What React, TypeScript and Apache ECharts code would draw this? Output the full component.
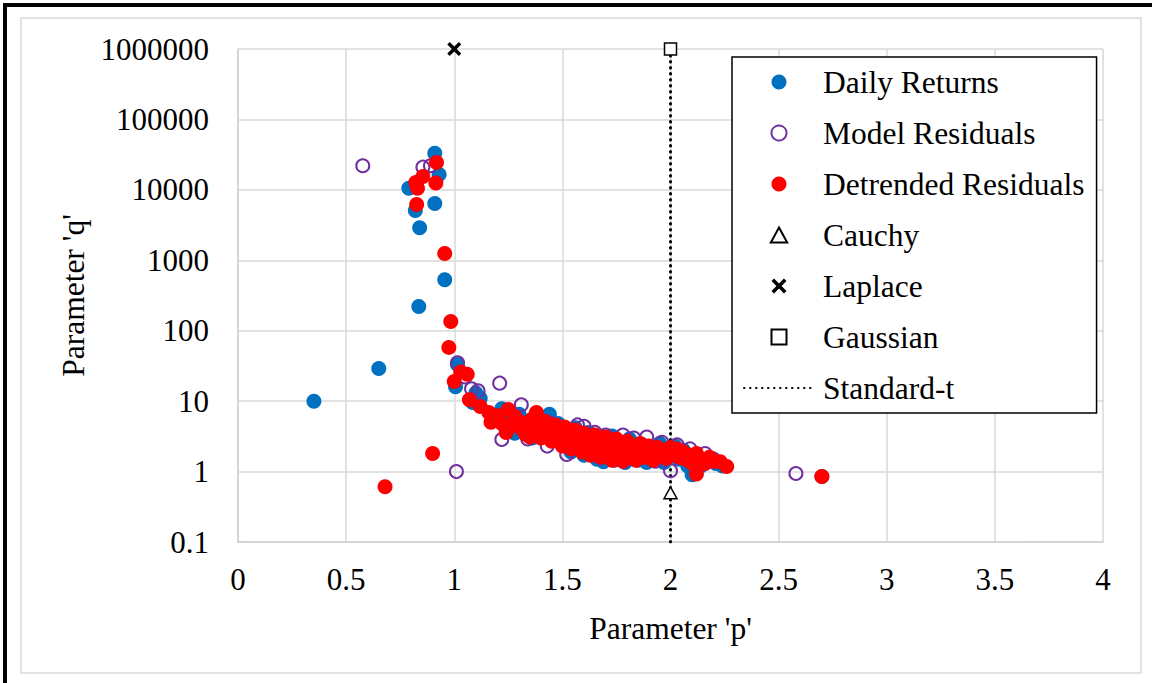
import React, { useEffect, useRef } from 'react';
import * as echarts from 'echarts';

const yTickLabels = ['0.1', '1', '10', '100', '1000', '10000', '100000', '1000000'];

const dailyReturns: [number, number][] = [
  [0.351, 10], [0.651, 29], [0.836, 220], [0.956, 530], [0.84, 2900], [0.82, 5100],
  [0.91, 6400], [0.79, 10500], [0.93, 16500], [0.91, 33000],
  [1.015, 33], [1.006, 16], [1.085, 9.6], [1.1, 13], [1.12, 11], [1.22, 7.8], [1.25, 5],
  [1.28, 3.5], [1.3, 6.5], [1.33, 4.2], [1.36, 3.0], [1.4, 5.5], [1.42, 3.8], [1.44, 6.5],
  [1.46, 2.9], [1.48, 4.8], [1.5, 2.4], [1.52, 3.8], [1.54, 1.9], [1.56, 4.2], [1.58, 2.6],
  [1.6, 1.7], [1.62, 3.6], [1.64, 2.2], [1.66, 1.5], [1.68, 3.0], [1.69, 1.38], [1.71, 2.0],
  [1.73, 3.2], [1.75, 1.6], [1.77, 2.5], [1.79, 1.35], [1.81, 2.9], [1.83, 1.8], [1.85, 1.45],
  [1.87, 2.4], [1.89, 1.35], [1.91, 2.0], [1.93, 1.5], [1.95, 2.5], [1.97, 1.35], [1.99, 1.9],
  [2.02, 2.3], [2.04, 1.5], [2.06, 2.0], [2.08, 1.2], [2.1, 0.9], [2.11, 1.7], [2.14, 1.2],
  [2.17, 1.5], [2.21, 1.3], [2.24, 1.2], [2.7, 0.85]
];

const modelResiduals: [number, number][] = [
  [0.577, 22000], [0.855, 21000], [0.89, 22000], [1.015, 35], [1.01, 1.0], [1.05, 22],
  [1.08, 15], [1.11, 14], [1.21, 18], [1.22, 2.85], [1.31, 8.9], [1.26, 5.5], [1.34, 2.9],
  [1.35, 4.2], [1.41, 3.2], [1.43, 2.3], [1.38, 6], [1.45, 4.8], [1.52, 1.75], [1.5, 3.5],
  [1.57, 4.6], [1.55, 2.8], [1.6, 4.4], [1.62, 2.3], [1.65, 3.6], [1.67, 1.6], [1.7, 3.3],
  [1.72, 2.1], [1.74, 1.45], [1.78, 3.3], [1.8, 2.5], [1.83, 3.0], [1.85, 1.7], [1.89, 3.1],
  [1.91, 2.2], [1.93, 1.4], [1.96, 2.6], [1.99, 1.6], [2.0, 1.03], [2.03, 2.4], [2.06, 1.7],
  [2.09, 2.1], [2.13, 1.4], [2.16, 1.8], [2.2, 1.5], [2.58, 0.94]
];

const detrendedResiduals: [number, number][] = [
  [0.918, 24500], [0.855, 15500], [0.822, 12700], [0.83, 10500], [0.915, 12500], [0.826, 6200],
  [0.956, 1250], [0.984, 135], [0.975, 58], [1.03, 26], [1.06, 24], [1.0, 19], [1.07, 10.5],
  [1.12, 8.4], [1.17, 5], [1.16, 6.9], [1.25, 7.6], [1.26, 4.4], [1.35, 3.1], [1.38, 6.9],
  [1.2, 6.2], [1.22, 4.8], [1.24, 3.6], [1.28, 6.0], [1.3, 5.2], [1.31, 4.1], [1.33, 3.4],
  [1.36, 5.6], [1.37, 4.5], [1.39, 3.8], [1.4, 3.0], [1.42, 5.2], [1.43, 4.2], [1.44, 3.3],
  [1.45, 2.7], [1.47, 4.6], [1.48, 3.6], [1.49, 2.9], [1.5, 2.3], [1.51, 4.3], [1.52, 3.4],
  [1.53, 2.6], [1.54, 2.1], [1.56, 3.9], [1.57, 3.0], [1.58, 2.4], [1.59, 1.9], [1.6, 3.5],
  [1.61, 2.7], [1.62, 2.1], [1.63, 1.7], [1.65, 3.3], [1.66, 2.6], [1.67, 2.0], [1.68, 1.6],
  [1.7, 3.1], [1.71, 2.4], [1.72, 1.9], [1.73, 1.45], [1.75, 2.9], [1.76, 2.2], [1.77, 1.75],
  [1.78, 1.4], [1.8, 2.7], [1.81, 2.1], [1.82, 1.7], [1.84, 1.45], [1.86, 2.5], [1.87, 2.0],
  [1.88, 1.6], [1.9, 2.3], [1.91, 1.8], [1.92, 1.45], [1.94, 2.2], [1.95, 1.7], [1.97, 2.0],
  [1.98, 1.55], [2.0, 2.2], [2.01, 1.8], [2.03, 2.1], [2.04, 1.6], [2.06, 1.9], [2.07, 1.5],
  [2.09, 1.7], [2.1, 1.3], [2.12, 0.92], [2.12, 1.8], [2.14, 1.5], [2.16, 1.3], [2.18, 1.6],
  [2.2, 1.4], [2.23, 1.38], [2.26, 1.18],
  [0.9, 1.8], [0.68, 0.61], [2.7, 0.85]
];

const cauchy: [number, number][] = [[2, 0.5]];
const laplace: [number, number][] = [[1, 1000000]];
const gaussian: [number, number][] = [[2, 1000000]];
const standardT: [number, number][] = [[2, 0.1], [2, 1000000]];

const FONT = 'Liberation Serif, Times New Roman, serif';
const X_PATH = 'path://M0,2.4 L2.4,0 L7,4.6 L11.6,0 L14,2.4 L9.4,7 L14,11.6 L11.6,14 L7,9.4 L2.4,14 L0,11.6 L4.6,7 Z';
const TRI_PATH = 'path://M6,0 L12,11 L0,11 Z';
const SQ_PATH = 'path://M0,0 L10,0 L10,10 L0,10 Z';

export default function App() {
  const ref = useRef<HTMLDivElement>(null);
  useEffect(() => {
    const chart = echarts.init(ref.current!, null, { renderer: 'svg' });
    chart.setOption({
      animation: false,
      backgroundColor: '#fff',
      textStyle: { fontFamily: FONT, color: '#000' },
      graphic: [
        { type: 'rect', shape: { x: 3, y: 3, width: 4, height: 680 }, style: { fill: '#000' }, silent: true },
        { type: 'rect', shape: { x: 3, y: 3, width: 1149, height: 4 }, style: { fill: '#000' }, silent: true },
        { type: 'rect', shape: { x: 21, y: 18, width: 1120, height: 655 }, style: { fill: 'none', stroke: '#d9d9d9', lineWidth: 1.5 }, silent: true }
      ],
      grid: { left: 238, top: 49, width: 865, height: 493, containLabel: false },
      xAxis: {
        type: 'value', min: 0, max: 4, interval: 0.5,
        name: "Parameter 'p'", nameLocation: 'middle', nameGap: 70,
        nameTextStyle: { fontFamily: FONT, fontSize: 31.5, color: '#000' },
        axisLine: { show: true, lineStyle: { color: '#d0d0d0', width: 1.5 } },
        axisTick: { show: false },
        axisLabel: { fontFamily: FONT, fontSize: 31, color: '#000', margin: 22 },
        splitLine: { show: true, lineStyle: { color: '#d9d9d9', width: 1.5 } }
      },
      yAxis: {
        type: 'log', logBase: 10, min: 0.1, max: 1000000, splitNumber: 7,
        name: "Parameter 'q'", nameLocation: 'middle', nameGap: 148,
        nameTextStyle: { fontFamily: FONT, fontSize: 31.5, color: '#000' },
        axisLine: { show: true, lineStyle: { color: '#d0d0d0', width: 1.5 } },
        axisTick: { show: false },
        axisLabel: {
          fontFamily: FONT, fontSize: 31, color: '#000', margin: 29,
          formatter: (v: number) => yTickLabels[Math.round(Math.log10(v)) + 1] ?? ''
        },
        splitLine: { show: true, lineStyle: { color: '#d9d9d9', width: 1.5 } }
      },
      legend: {
        orient: 'vertical', left: 732, top: 57,
        padding: [9, 12, 9, 11],
        backgroundColor: '#fff', borderColor: '#000', borderWidth: 1.5,
        itemWidth: 70, itemHeight: 15, itemGap: 19,
        textStyle: { fontFamily: FONT, fontSize: 31.5, color: '#000', lineHeight: 30, padding: [0, 0, 0, 4] },
        data: ['Daily Returns', 'Model Residuals', 'Detrended Residuals', 'Cauchy', 'Laplace', 'Gaussian', 'Standard-t']
      },
      series: [
        {
          name: 'Daily Returns', type: 'scatter', data: dailyReturns, symbol: 'circle', symbolSize: 15,
          itemStyle: { color: '#0070C0', opacity: 1 }
        },
        {
          name: 'Model Residuals', type: 'scatter', data: modelResiduals, symbol: 'circle', symbolSize: 13,
          itemStyle: { color: 'rgba(0,0,0,0)', borderColor: '#7030A0', borderWidth: 2, opacity: 1 }
        },
        {
          name: 'Detrended Residuals', type: 'scatter', data: detrendedResiduals, symbol: 'circle', symbolSize: 15,
          itemStyle: { color: '#FF0000', opacity: 1 }
        },
        {
          name: 'Cauchy', type: 'scatter', data: cauchy, symbol: TRI_PATH, symbolSize: 13,
          symbolKeepAspect: true,
          itemStyle: { color: '#fff', borderColor: '#000', borderWidth: 1.5, opacity: 1 }
        },
        {
          name: 'Laplace', type: 'scatter', data: laplace, symbol: X_PATH, symbolSize: 14,
          symbolKeepAspect: true, itemStyle: { color: '#000', opacity: 1 }
        },
        {
          name: 'Gaussian', type: 'scatter', data: gaussian, symbol: SQ_PATH, symbolSize: 12,
          symbolKeepAspect: true,
          itemStyle: { color: '#fff', borderColor: '#000', borderWidth: 1.5, opacity: 1 }
        },
        {
          name: 'Standard-t', type: 'line', data: standardT, symbol: 'none', showSymbol: false,
          lineStyle: { color: '#000', width: 3, type: [0.5, 5.5], cap: 'round' },
          itemStyle: { color: '#000', opacity: 0 }, z: 1
        }
      ]
    });
    return () => chart.dispose();
  }, []);
  return <div ref={ref} style={{ position: 'fixed', left: 0, top: 0, width: 1152, height: 683, background: '#fff' }} />;
}
